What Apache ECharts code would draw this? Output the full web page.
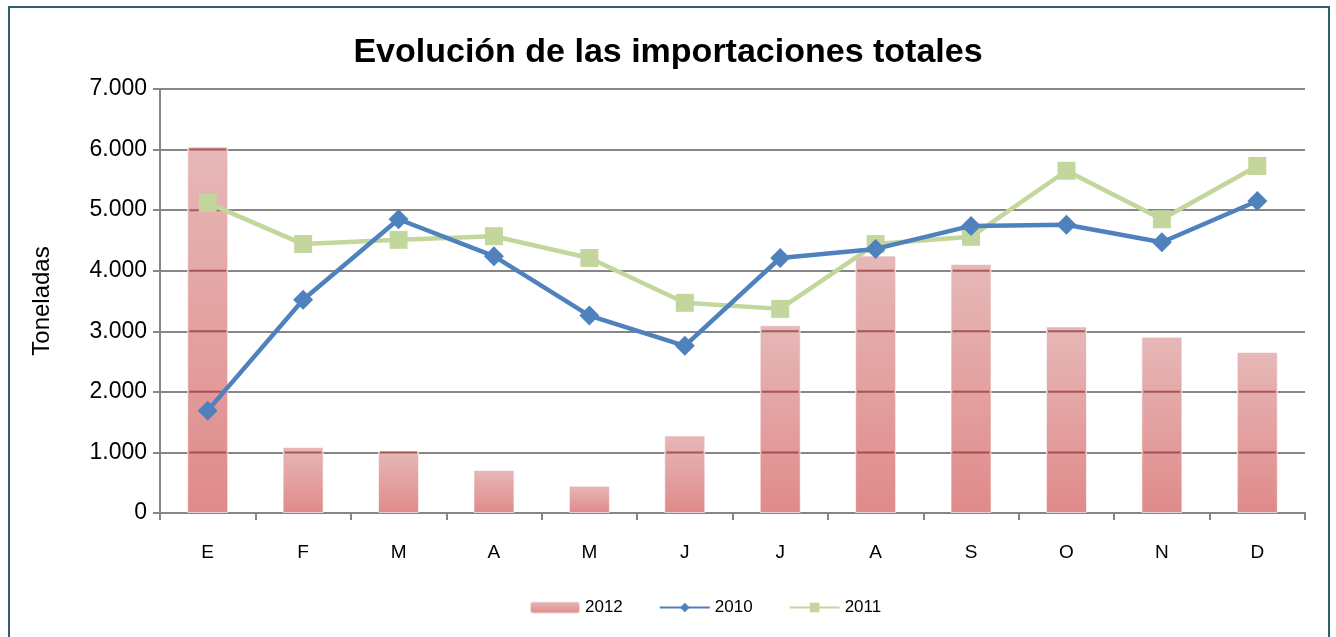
<!DOCTYPE html>
<html>
<head>
<meta charset="utf-8">
<script src="https://cdn.jsdelivr.net/npm/echarts@6/dist/echarts.min.js"></script>
<style>
html,body{margin:0;padding:0;background:#fff;overflow:hidden;}
#frame{position:absolute;left:8px;top:6px;width:1322px;height:640px;border:2px solid #2f5f6f;box-sizing:border-box;}
#chart{position:absolute;left:0;top:0;width:1336px;height:637px;}
</style>
</head>
<body>
<div id="frame"></div>
<div id="chart"></div>
<script>
const categories = ['E','F','M','A','M','J','J','A','S','O','N','D'];
const s2012 = [6050,1090,1030,710,450,1280,3100,4250,4110,3080,2910,2660];
const s2010 = [1690,3520,4850,4240,3260,2760,4210,4360,4740,4760,4470,5150];
const s2011 = [5120,4440,4510,4570,4210,3470,3370,4440,4560,5650,4850,5730];
const yTicks = {min:0, max:7000, interval:1000};
const gridValues = [1000,2000,3000,4000,5000,6000,7000];

const fmt = v => String(v).replace(/\B(?=(\d{3})+(?!\d))/g, '.');
const font = 'Liberation Sans, Arial, sans-serif';
const BAR_W = 41;
const chart = echarts.init(document.getElementById('chart'), null, {renderer:'canvas'});
chart.setOption({
  backgroundColor: 'transparent',
  animation: false,
  textStyle: {fontFamily: font},
  title: {
    text: 'Evolución de las importaciones totales',
    left: 'center', top: 31,
    textStyle: {fontSize: 34, fontWeight: 'bold', color: '#000', fontFamily: font}
  },
  legend: {
    left: 524, top: 594,
    itemWidth: 50, itemHeight: 12, itemGap: 36,
    textStyle: {fontSize: 17, color: '#000', fontFamily: font},
    data: ['2012','2010','2011']
  },
  grid: {left: 160, right: 31, top: 89, bottom: 124, containLabel: false},
  xAxis: {
    type: 'category', data: categories, boundaryGap: true,
    axisLine: {lineStyle: {color: '#868686', width: 2}},
    axisTick: {show: true, length: 7, lineStyle: {color: '#868686', width: 2}},
    axisLabel: {fontSize: 19, color: '#000', margin: 30}
  },
  yAxis: {
    type: 'value', min: yTicks.min, max: yTicks.max, interval: yTicks.interval,
    name: 'Toneladas', nameLocation: 'middle', nameGap: 106, nameRotate: 90,
    nameTextStyle: {fontSize: 24, color: '#000'},
    axisLine: {show: true, lineStyle: {color: '#868686', width: 2}},
    axisTick: {show: true, length: 7, lineStyle: {color: '#868686', width: 2}},
    splitLine: {lineStyle: {color: '#868686', width: 2}},
    axisLabel: {fontSize: 23, color: '#000', margin: 13, formatter: fmt}
  },
  series: [
    {
      name: '2012', type: 'bar', data: s2012, barWidth: BAR_W, z: 1,
      itemStyle: {
        color: new echarts.graphic.LinearGradient(0,0,0,1,[
          {offset:0, color:'#e6b8b7'},
          {offset:1, color:'#e08a8a'}
        ]),
        borderColor: 'rgba(255,255,255,0.6)', borderWidth: 1
      }
    },
    {
      name: 'grid-through-bars', type: 'custom', z: 2, silent: true,
      data: s2012.map((v, i) => [i, v]),
      encode: {x: 0, y: 1},
      renderItem: function (params, api) {
        const i = api.value(0), v = api.value(1);
        const children = gridValues.filter(g => g < v).map(g => {
          const p = api.coord([i, g]);
          return {
            type: 'line',
            shape: {x1: p[0] - BAR_W / 2 + 2, y1: p[1], x2: p[0] + BAR_W / 2 - 2, y2: p[1]},
            style: {stroke: 'rgba(140,50,50,0.7)', lineWidth: 2}
          };
        });
        return {type: 'group', children: children};
      }
    },
    {
      name: '2010', type: 'line', data: s2010, z: 4,
      symbol: 'diamond', symbolSize: 20,
      lineStyle: {color: '#4f81bd', width: 4.5},
      itemStyle: {color: '#4f81bd'}
    },
    {
      name: '2011', type: 'line', data: s2011, z: 3,
      symbol: 'rect', symbolSize: 18,
      lineStyle: {color: '#c3d69b', width: 4.5},
      itemStyle: {color: '#c3d69b'}
    }
  ]
});
</script>
</body>
</html>
